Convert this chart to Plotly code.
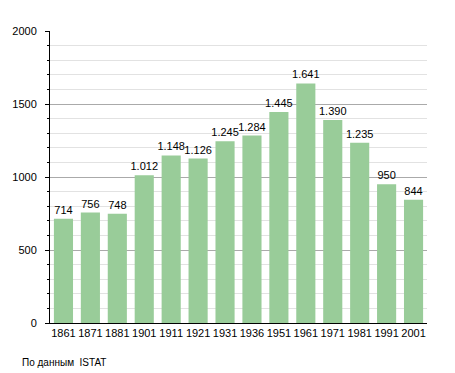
import plotly.graph_objects as go

years = ["1861", "1871", "1881", "1901", "1911", "1921", "1931", "1936", "1951", "1961", "1971", "1981", "1991", "2001"]
population = [714, 756, 748, 1012, 1148, 1126, 1245, 1284, 1445, 1641, 1390, 1235, 950, 844]
y_ticks = [0, 500, 1000, 1500, 2000]

labels = [f"{v:,}".replace(",", ".") for v in population]

fig = go.Figure(go.Bar(
    x=years, y=population, text=labels, textposition="outside",
    constraintext="none", cliponaxis=False,
    textfont=dict(size=11, color="black", family="Liberation Sans, Arial"),
    marker=dict(color="#99cc99", line=dict(width=0)),
    hoverinfo="skip",
))

fig.update_layout(
    width=447, height=365,
    margin=dict(l=42, r=28, t=23, b=50, autoexpand=False),
    paper_bgcolor="white", plot_bgcolor="white",
    bargap=0.29, showlegend=False,
    font=dict(family="Liberation Sans, Arial", size=11, color="black"),
)
fig.update_xaxes(
    type="category", showline=True, linecolor="black", linewidth=1,
    ticks="", showgrid=False, tickfont=dict(size=11),
)
fig.update_yaxes(
    range=[0, 2000], tickvals=y_ticks, ticktext=[str(t) for t in y_ticks],
    showline=True, linecolor="black", linewidth=1,
    ticks="outside", ticklen=4, tickcolor="black", ticklabelstandoff=6,
    gridcolor="#aaaaaa", gridwidth=1, zeroline=False,
    minor=dict(dtick=100, tick0=0, ticks="outside", ticklen=2, tickcolor="black",
               showgrid=True, gridcolor="#e2e2e2", gridwidth=1),
    tickfont=dict(size=11),
)
fig.add_annotation(
    text="По данным  ISTAT", xref="paper", yref="paper", x=-30 / 377, y=-0.134,
    xanchor="left", yanchor="middle", showarrow=False,
    font=dict(size=10, color="black"),
)
fig.write_html("out.html")
